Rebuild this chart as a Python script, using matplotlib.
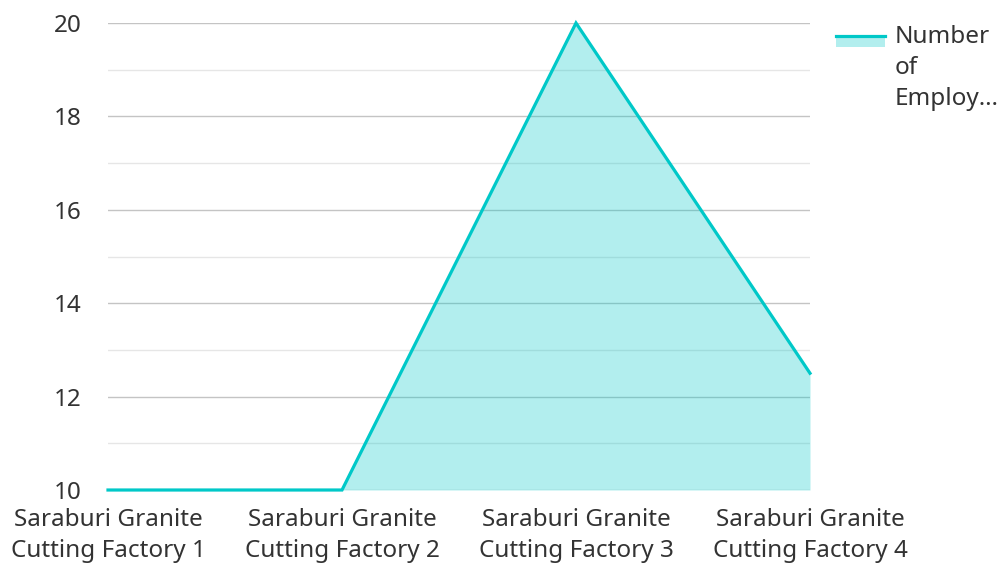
import matplotlib
matplotlib.use("Agg")
import matplotlib.pyplot as plt
from matplotlib.lines import Line2D
from matplotlib.patches import Rectangle
from matplotlib.ticker import MultipleLocator

plt.rcParams["font.family"] = ["Noto Sans", "DejaVu Sans"]

# ── data ────────────────────────────────────────────────────────────────
factories = ["Saraburi Granite\nCutting Factory 1",
             "Saraburi Granite\nCutting Factory 2",
             "Saraburi Granite\nCutting Factory 3",
             "Saraburi Granite\nCutting Factory 4"]
employees = [10, 10, 20, 12.5]
series_label = "Number\nof\nEmploy…"

LINE_COLOR = "#00c8c8"
TEXT_COLOR = "#333333"
FS = 17.5

fig = plt.figure(figsize=(10, 5.64), dpi=100)
ax = fig.add_axes([0.108, 0.1312, 0.702, 0.828])

x = list(range(len(factories)))
# translucent fill on top of the grid, like the original
ax.fill_between(x, 10, employees, color=LINE_COLOR, alpha=0.3, zorder=3, linewidth=0)
ax.plot(x, employees, color=LINE_COLOR, linewidth=2.3, zorder=4,
        solid_joinstyle="miter", clip_on=False)

ax.set_xlim(0, len(factories) - 1)
ax.set_ylim(10, 20)
ax.yaxis.set_major_locator(MultipleLocator(2))
ax.yaxis.set_minor_locator(MultipleLocator(1))
ax.grid(True, which="major", axis="y", color="#c4c4c4", linewidth=1, zorder=1)
ax.grid(True, which="minor", axis="y", color="#e6e6e6", linewidth=1, zorder=1)
ax.set_axisbelow(True)

ax.set_xticks(x)
ax.set_xticklabels(factories, fontsize=FS, color=TEXT_COLOR, linespacing=1.4)
ax.tick_params(axis="x", length=0, pad=13)
ax.tick_params(axis="y", which="both", length=0, pad=19,
               labelsize=FS, labelcolor=TEXT_COLOR)
for s in ax.spines.values():
    s.set_visible(False)

# legend drawn by hand so the wrapped label sits like the original
fig.add_artist(Rectangle((0.836, 1 - 47 / 564), 0.049, 12 / 564,
                         transform=fig.transFigure, color=LINE_COLOR, alpha=0.3, lw=0))
fig.add_artist(Line2D([0.836, 0.885], [1 - 36 / 564] * 2,
                      transform=fig.transFigure, color=LINE_COLOR, lw=2.3))
fig.text(0.895, 1 - 25 / 564, series_label, ha="left", va="top",
         fontsize=FS, color=TEXT_COLOR, linespacing=1.4)

fig.savefig("out.png", dpi=100)
